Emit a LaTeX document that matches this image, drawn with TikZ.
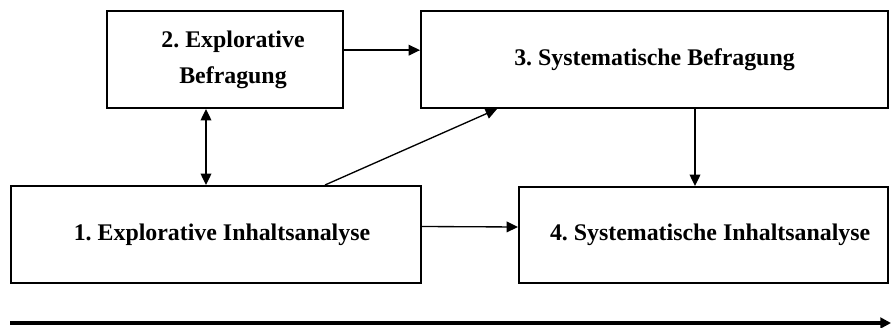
\documentclass[tikz,border=0pt]{standalone}
\usepackage{fontspec}
\setmainfont{Liberation Serif}
\usetikzlibrary{arrows.meta}
\frenchspacing
\begin{document}
\begin{tikzpicture}[x=0.75pt,y=-0.75pt,
  box/.style={draw,line width=1.5pt,inner sep=0pt,font=\fontsize{17.9}{27}\selectfont\bfseries,align=center},
  arr/.style={line width=1pt,-{Triangle[length=8.5pt,width=8pt]}},
  arrboth/.style={line width=1pt,{Triangle[length=8.5pt,width=8pt]}-{Triangle[length=8.5pt,width=8pt]}},
  bigarr/.style={line width=3pt,-{Triangle[length=8pt,width=8pt]}}]
\useasboundingbox (0,0) rectangle (893,328);
\node[box,minimum width=177pt,minimum height=72.75pt] (b2) at (225,59.5) {\hspace*{12pt}2. Explorative\\\hspace*{12pt}Befragung};
\node[box,minimum width=350.25pt,minimum height=72.75pt] (b3) at (654.5,59.5) {\raisebox{2pt}{3. Systematische Befragung}};
\node[box,minimum width=307.5pt,minimum height=72.75pt] (b1) at (216,234.5) {\hspace*{9pt}\raisebox{2pt}{1. Explorative Inhaltsanalyse}};
\node[box,minimum width=276.75pt,minimum height=72pt] (b4) at (703.5,235) {\hspace*{10pt}\raisebox{4pt}{4. Systematische Inhaltsanalyse}};
\draw[arr] ([yshift=7pt]b2.east) -- ([yshift=7pt]b3.west);
\draw[arrboth] (b2.south -| 206,0) -- (b1.north -| 206,0);
\draw[arr] (b1.north -| 325,0) -- (b3.south -| 497,0);
\draw[arr] (b3.south -| 695,0) -- (b4.north -| 695,0);
\draw[arr] ([yshift=6pt]b1.east) -- ([yshift=6pt]b4.west);
\coordinate (t0) at (10,323);
\coordinate (t1) at (891,323);
\draw[bigarr] (t0) -- (t1);
\end{tikzpicture}
\end{document}
